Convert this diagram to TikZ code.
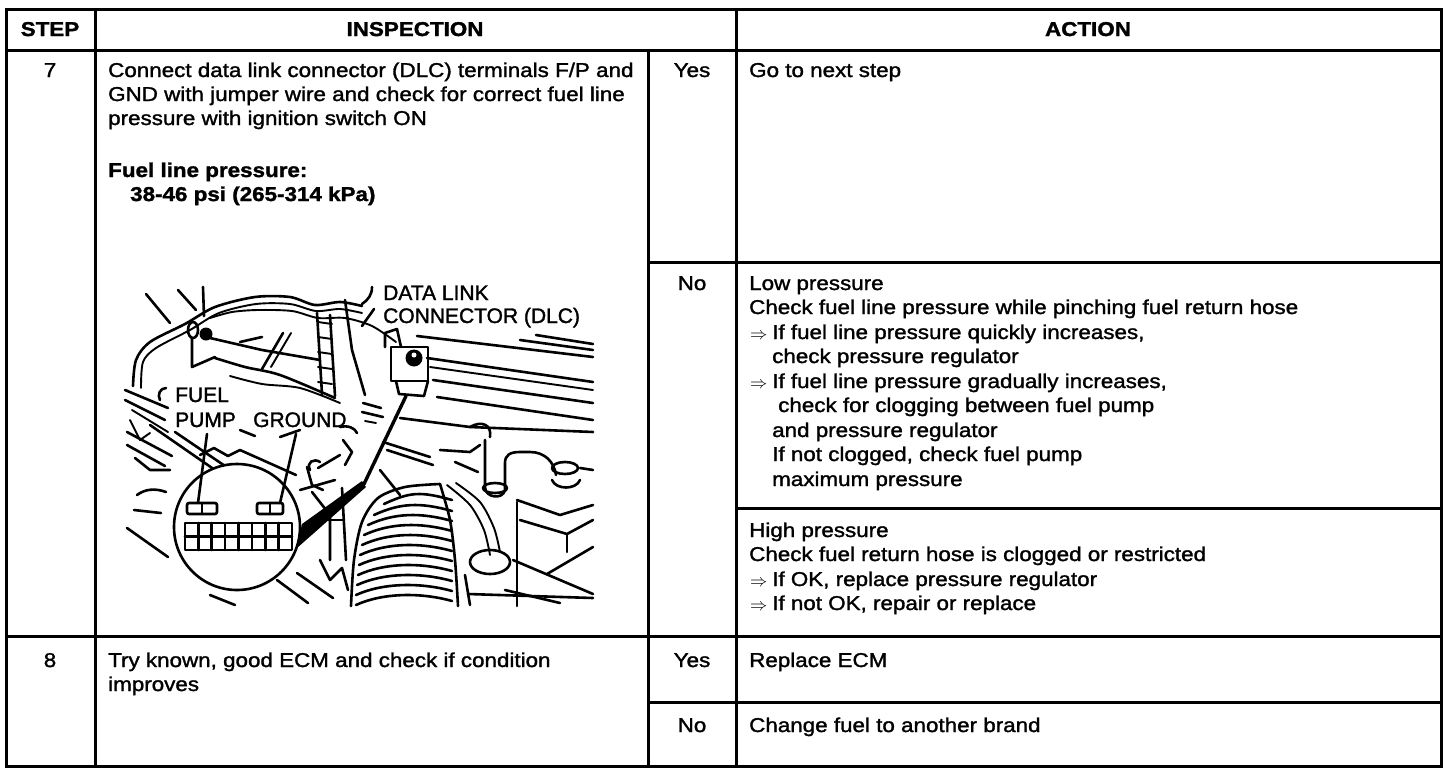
\documentclass[tikz,border=0pt]{standalone}
\usepackage{fontspec}
\setmainfont{Liberation Sans}[FakeStretch=1.12,FakeBold=1.5]
\newfontfamily\labelfont{Liberation Sans}[FakeBold=1.5]
\begin{document}
\begin{tikzpicture}[x=1pt,y=-1pt,
  gridline/.style={line width=3pt},
  txt/.style={anchor=base west,inner sep=0pt,font=\fontsize{20}{24}\selectfont},
  btxt/.style={anchor=base west,inner sep=0pt,font=\fontsize{20}{24}\selectfont\bfseries},
  ctr/.style={anchor=base,inner sep=0pt,font=\fontsize{20}{24}\selectfont},
  hdr/.style={anchor=base,inner sep=0pt,font=\fontsize{20}{24}\selectfont\bfseries},
  lbl/.style={anchor=base west,inner sep=0pt,font=\labelfont\fontsize{21}{25}\selectfont},
  art/.style={line width=2.6pt,line cap=round,line join=round},
  thin/.style={line width=1.9pt,line cap=round,line join=round},
]
\newcommand{\imp}{\makebox[22pt][l]{\fontsize{16.5}{16.5}\selectfont$\Rightarrow$}}
\useasboundingbox (0,0) rectangle (1456,774);
\fill[white] (0,0) rectangle (1456,774);

% ---------------- table ----------------
\draw[gridline] (6,9) rectangle (1441,766);
\draw[gridline] (6,50) -- (1441,50);
\draw[gridline] (95,9) -- (95,766);
\draw[gridline] (736,9) -- (736,766);
\draw[gridline] (648,50) -- (648,766);
\draw[gridline] (648,262) -- (1441,262);
\draw[gridline] (736,508) -- (1441,508);
\draw[gridline] (6,636) -- (1441,636);
\draw[gridline] (648,702) -- (1441,702);

% header
\node[hdr] (hstep) at (50,36) {STEP};
\node[hdr] (hinsp) at (415,36) {INSPECTION};
\node[hdr] (hact) at (1088,36) {ACTION};

% step 7
\node[ctr] (s7) at (50,77) {7};
\node[txt] (i7a) at (108,77) {Connect data link connector (DLC) terminals F/P and};
\node[txt] (i7b) at (108,101) {GND with jumper wire and check for correct fuel line};
\node[txt] (i7c) at (108,125) {pressure with ignition switch ON};
\node[btxt] (i7d) at (108,177) {Fuel line pressure:};
\node[btxt] (i7e) at (130,201) {38-46 psi (265-314 kPa)};
\node[ctr] (y7) at (692,77) {Yes};
\node[txt] (a7y) at (749,77) {Go to next step};
\node[ctr] (n7) at (692,290) {No};
\node[txt] (a7n1) at (749,290) {Low pressure};
\node[txt] (a7n2) at (749,314) {Check fuel line pressure while pinching fuel return hose};
\node[txt] (a7n3) at (750,339) {\imp If fuel line pressure quickly increases,};
\node[txt] (a7n4) at (772,363) {check pressure regulator};
\node[txt] (a7n5) at (750,388) {\imp If fuel line pressure gradually increases,};
\node[txt] (a7n6) at (778,412) {check for clogging between fuel pump};
\node[txt] (a7n7) at (772,437) {and pressure regulator};
\node[txt] (a7n8) at (772,461) {If not clogged, check fuel pump};
\node[txt] (a7n9) at (772,486) {maximum pressure};
\node[txt] (a7h1) at (749,537) {High pressure};
\node[txt] (a7h2) at (749,561) {Check fuel return hose is clogged or restricted};
\node[txt] (a7h3) at (750,586) {\imp If OK, replace pressure regulator};
\node[txt] (a7h4) at (750,610) {\imp If not OK, repair or replace};

% step 8
\node[ctr] (s8) at (50,667) {8};
\node[txt] (i8a) at (108,667) {Try known, good ECM and check if condition};
\node[txt] (i8b) at (108,691) {improves};
\node[ctr] (y8) at (692,667) {Yes};
\node[txt] (a8y) at (749,667) {Replace ECM};
\node[ctr] (n8) at (692,732) {No};
\node[txt] (a8n) at (749,732) {Change fuel to another brand};

% ---------------- illustration ----------------
% radial strokes top left
\draw[art] (146,294) -- (170,323);
\draw[art] (178,290) -- (196,310);
\draw[art] (203,287) -- (204,316);
% harness loop
\draw[art] plot[smooth] coordinates {(133,386) (136,360) (150,342) (185,324) (215,307) (255,297) (290,297) (315,305) (340,302) (362,306)};
\draw[thin] plot[smooth] coordinates {(141,388) (143,362) (156,348) (190,330) (219,313) (256,304) (290,304) (316,311) (340,309) (362,313)};
\draw[thin] plot[smooth] coordinates {(210,318) (232,312) (258,310) (292,311) (318,318) (345,318) (372,326) (396,342)};
% clamp
\fill (206,334) circle (6.5);
\draw[art] (193,330) ellipse (5 and 8);
\draw[art] (192,338) -- (192,367) -- (215,357);
% inner harness lines
\draw[art] (210,338) -- (262,350) -- (320,360);
\draw[art] plot[smooth] coordinates {(215,358) (245,367) (280,375) (335,398)};
\draw[thin] plot[smooth] coordinates {(230,376) (262,384) (300,388) (340,403)};
\draw[art] (262,369) -- (283,333);
\draw[thin] (271,367) -- (291,333);
\draw[art] (240,342) -- (262,337);
% bracket
\draw[art] (317,313) -- (322,394);
\draw[art] (330,315) -- (335,396);
\foreach \yy in {322,337,352,367,382} \draw[thin] (318,\yy) -- (332,\yy+2);
\draw[art] (345,300) -- (352,350) -- (365,395);
\draw[art] (372,287) .. controls (372,295) and (368,300) .. (362,304);
\draw[art] (374,309) .. controls (370,315) and (366,320) .. (362,326);
% small hook left of FUEL
\draw[art] (166,388) .. controls (160,388) and (157,395) .. (160,400);
% left hatch
\draw[art] (125,390) -- (168,408);
\draw[art] (125,400) -- (165,420);
\draw[thin] (132,410) -- (168,432);
\draw[art] (127,432) -- (172,456);
\draw[art] (127,445) -- (165,466);
\draw[thin] (130,420) -- (140,440) -- (150,433);
\draw[art] (135,458) -- (150,470) -- (170,470);
\draw[art] (137,495) .. controls (145,489) and (155,488) .. (166,492);
\draw[art] (134,510) -- (161,513);
\draw[art] (127,528) -- (168,557);
% lines above circle
\draw[art] (150,425) -- (215,470);
\draw[art] (175,432) -- (228,468);
\draw[art] (200,455) -- (214,448) -- (228,456) -- (240,450) -- (296,475);
\draw[art] (240,430) -- (255,436);
\draw[art] (280,437) -- (300,430);
\draw[art] (310,470) .. controls (306,462) and (314,458) .. (320,462);
\draw[art] (318,468) -- (340,455);
\draw[art] (300,490) -- (335,480);
\draw[art] (307,467) -- (312,485) -- (323,490);
\draw[art] (340,427) .. controls (348,425) and (355,428) .. (357,433);
\draw[art] (343,440) -- (352,452) -- (345,465);
% cowl lines right
\draw[art] (417,336) -- (593,357);
\draw[art] (427,358) -- (593,382);
\draw[thin] (430,367) -- (593,390);
\draw[art] (433,380) -- (593,403);
\draw[art] (437,397) -- (593,420);
\draw[art] (400,418) -- (470,427) -- (593,432);
\draw[art] (520,340) -- (593,350);
\draw[art] (536,335) -- (593,344);
\draw[art] (363,403) -- (381,408);
\draw[art] (362,412) -- (383,417);
\draw[thin] (365,421) -- (376,423);
\draw[art] (383,442) -- (430,457);
\draw[art] (387,450) -- (433,465);
\draw[art] (470,427) .. controls (482,420) and (492,425) .. (490,437);
\draw[art] (440,450) -- (470,452) -- (480,445);
\draw[art] (455,462) -- (478,472);
\draw[art] (380,470) -- (400,495);
% DLC connector
\draw[art] (385,347) -- (385,333) -- (397,329) -- (401,347);
\draw[art] (391,347) rectangle (428,381);
\fill (414,358) circle (8.5);
\fill[white] (414,355) circle (2.5);
\draw[art] (396,381) -- (399,394) -- (424,396) -- (428,381);
% corrugated hose
\draw[art] plot[smooth] coordinates {(351,606) (354,560) (362,522) (378,498) (405,487) (440,484)};
\draw[art] plot[smooth] coordinates {(440,484) (450,520) (455,560) (458,606)};
\foreach \yy/\xl in {497/380,508/370,518/364,528/360,538/358,548/356,558/355,568/354,578/353,588/352,598/352}
  \draw[art] (\xl+4,\yy+7) .. controls (\xl+30,\yy-5) and (420,\yy-6) .. (452,\yy+3);
% thin curves right of hose
\draw[thin] plot[smooth] coordinates {(447,485) (470,505) (484,530) (490,555)};
\draw[thin] plot[smooth] coordinates {(456,483) (480,502) (494,528) (500,552)};
% elbow pipe
\draw[art] (485,440) -- (485,487) .. controls (485,498) and (503,500) .. (505,490) -- (505,463) .. controls (505,455) and (510,452) .. (520,452) -- (530,452) .. controls (545,452) and (554,462) .. (556,475);
\draw[art] (495,488) ellipse (12 and 5);
% cap
\draw[art] (565,468) ellipse (13 and 6);
\draw[art] (552,480) .. controls (556,490) and (576,490) .. (580,480);
\draw[art] (580,468) -- (593,470);
% box
\draw[art] (517,502) -- (517,606);
\draw[art] (517,500) -- (560,515) -- (593,505);
\draw[art] (520,520) -- (567,534) -- (593,520);
\draw[art] (567,534) -- (567,552);
\draw[art] (513,560) -- (593,594);
\draw[art] (547,574) -- (593,547);
\draw[art] (505,590) -- (560,603);
% oval bottom of hose
\draw[art] (490,562) ellipse (20 and 12);
\draw[art] (468,594) -- (593,598);
\draw[art] (465,575) -- (470,605);
% left of hose / below circle
\draw[art] (312,492) -- (330,515) -- (330,560);
\draw[art] (342,488) -- (346,560);
\draw[art] (320,520) -- (343,520);
\draw[art] (320,560) -- (330,580) -- (342,568) -- (348,590);
\draw[art] (277,580) -- (308,603);
\draw[art] (297,573) -- (333,598);
\draw[art] (210,595) -- (235,605);

% inset circle
\fill[white] (237,527) circle (63);
\draw[art] (237,527) circle (63);
\draw[art,rounded corners=2pt] (187,503) rectangle (217,514);
\draw[thin] (202,503) -- (202,514);
\draw[art,rounded corners=2pt] (257,503) rectangle (283,514);
\draw[thin] (270,503) -- (270,514);
\draw[art] (185,523) rectangle (292,550);
\draw[art] (185,536.5) -- (292,536.5);
\foreach \i in {1,...,7} \draw[art] ({185+\i*13.375},523) -- ++(0,27);
\draw[art] (198,503) -- (207,434);
\draw[art] (280,503) -- (296,434);
% jumper wire to DLC: thick near the inset, thinner up to the connector
\fill (297,548) -- (302,524) -- (362,481) -- (366,487) -- cycle;
\draw[line width=3.4pt,line cap=round] (364,484) -- (406,396);

% labels
\node[lbl] (ldlc1) at (383,300) {DATA LINK};
\node[lbl] (ldlc2) at (383,323) {CONNECTOR (DLC)};
\node[lbl] (lfp1) at (175,402) {FUEL};
\node[lbl] (lfp2) at (175,427) {PUMP};
\node[lbl] (lgnd) at (253,427) {GROUND};
\end{tikzpicture}
\end{document}
